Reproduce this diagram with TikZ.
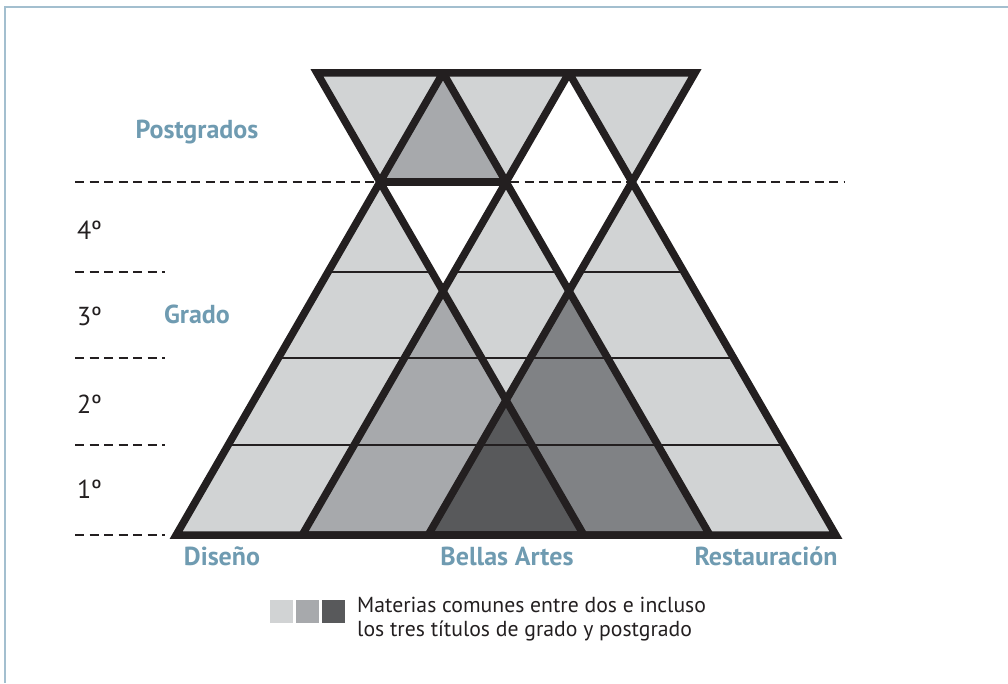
\documentclass[tikz,border=0pt]{standalone}
\usepackage{fontspec}
\setmainfont{PT Sans}
\usetikzlibrary{positioning}
\definecolor{frameblue}{HTML}{A3BFCF}
\definecolor{labelblue}{HTML}{6F9BB1}
\definecolor{inkblack}{HTML}{231F20}
\definecolor{greyA}{HTML}{D1D3D4}
\definecolor{greyB}{HTML}{A7A9AC}
\definecolor{greyC}{HTML}{808285}
\definecolor{greyD}{HTML}{58595B}
\tikzset{
  outline/.style={line width=7.5pt,draw=inkblack,line join=miter},
  yearline/.style={line width=2pt,draw=inkblack},
  levelline/.style={line width=2.2pt,draw=inkblack,dash pattern=on 9pt off 5.5pt},
  title/.style={font=\bfseries\fontsize{26}{30}\selectfont,text=labelblue,anchor=base,inner sep=0pt},
  year/.style={font=\fontsize{26}{30}\selectfont,text=inkblack,anchor=base west,inner sep=0pt},
  legendtext/.style={font=\fontsize{21.7}{24}\selectfont,text=inkblack,align=left,inner sep=0pt}
}
\begin{document}
\begin{tikzpicture}[x=1pt,y=-1pt]
  \useasboundingbox (0,0) rectangle (1008,683);
  \draw [frameblue,line width=1.5pt] (5,683) -- (5,7) -- (1008,7);
  % course levels
  \draw [levelline] (75,182) -- (845,182);
  \foreach \y in {272,358,445,535}
    \draw [levelline] (75,\y) -- (165,\y);
  % grado pyramids
  \foreach \a in {380,506,632}
    \fill [greyA] (\a-203.8,535) -- (\a,182) -- (\a+203.8,535) -- cycle;
  \fill [greyB] (302.2,535) -- (443,291.1) -- (583.8,535) -- cycle;
  \fill [greyC] (428.2,535) -- (569,291.1) -- (709.8,535) -- cycle;
  \fill [greyD] (428.2,535) -- (506,400.2) -- (583.8,535) -- cycle;
  \foreach \a in {380,506,632} {
    \begin{scope}
      \clip (\a-203.8,535) -- (\a,182) -- (\a+203.8,535) -- cycle;
      \foreach \y in {272,358,445}
        \draw [yearline] (\a-210,\y) -- (\a+210,\y);
    \end{scope}
  }
  % postgrado
  \foreach \a in {380,506,632}
    \fill [greyA] (\a-63,72.9) -- (\a+63,72.9) -- (\a,182) -- cycle;
  \fill [greyB] (380,182) -- (443,72.9) -- (506,182) -- cycle;
  \foreach \a in {380,506,632}
    \draw [outline] (\a-63,72.9) -- (\a+63,72.9) -- (\a,182) -- cycle;
  \draw [outline] (380,182) -- (506,182);
  \foreach \a in {380,506,632}
    \draw [outline] (\a-203.8,535) -- (\a,182) -- (\a+203.8,535) -- cycle;
  % labels
  \node [title] (postgrados) at (197,138) {Postgrados};
  \node [title] (grado) at (197,323) {Grado};
  \node [title] (diseno) at (222,565) {Diseño};
  \node [title] (bellas) at (507,565) {Bellas Artes};
  \node [title] (restauracion) at (766,565) {Restauración};
  \node [year] (cuarto) at (77,239) {4º};
  \node [year] (tercero) at (77,325) {3º};
  \node [year] (segundo) at (77,413) {2º};
  \node [year] (primero) at (77,498) {1º};
  % legend
  \fill [greyA] (270,600) rectangle (293,623);
  \fill [greyB] (296,600) rectangle (319,623);
  \fill [greyD] (322,600) rectangle (345,623);
  \node [legendtext,anchor=north west] (leyenda) at (357,597) {Materias comunes entre dos e incluso\\los tres títulos de grado y postgrado};
\end{tikzpicture}
\end{document}
